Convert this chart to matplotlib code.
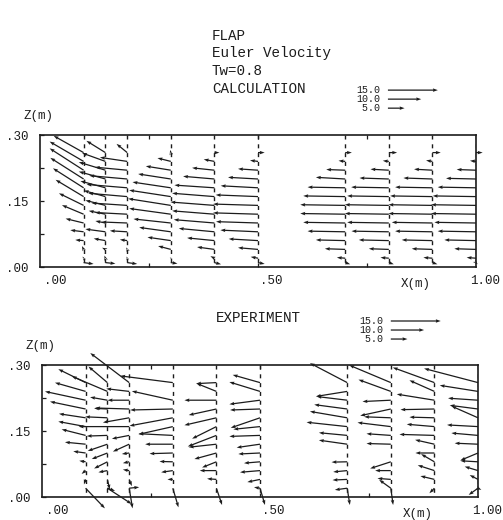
import matplotlib
matplotlib.use("Agg")
import matplotlib.pyplot as plt
import numpy as np

W, H = 503, 520
INK = "#1c1c1c"
plt.rcParams["font.family"] = ["Liberation Mono", "DejaVu Sans Mono"]

stations = [0.10, 0.15, 0.20, 0.30, 0.40, 0.50, 0.70, 0.80, 0.90, 1.00]

# calculation, rows from the top of the channel down
calc_z = [0.26, 0.24, 0.22, 0.20, 0.18, 0.16, 0.14, 0.12, 0.10, 0.08, 0.06, 0.04, 0.02, 0.01]
calc_u = [
    [-9.0, -10.2, -10.2, -10.0, -9.2, -8.4, -7.4, -6.5, -5.4, -4.0, -2.5, -0.5, -0.3, 3.0],
    [-5.7, -7.0, -8.0, -8.0, -7.5, -6.5, -6.0, -5.0, -3.0, -6.0, -3.5, -1.0, -0.3, 3.0],
    [-3.2, -8.2, -9.7, -11.4, -12.2, -11.7, -10.7, -9.7, -7.7, -5.2, -2.2, -0.3, -0.2, 3.0],
    [-0.2, -4.0, -7.5, -9.8, -11.5, -12.5, -12.8, -12.5, -11.2, -9.5, -7.0, -3.8, -0.3, 2.0],
    [1.5, -3.2, -6.7, -9.4, -12.0, -12.7, -13.2, -12.7, -12.2, -10.7, -8.2, -5.2, -1.2, 2.0],
    [2.0, -2.4, -6.0, -9.0, -11.2, -12.7, -13.5, -13.5, -12.6, -11.3, -8.8, -6.0, -2.2, 2.0],
    [2.0, -2.0, -5.7, -8.8, -11.3, -12.6, -13.5, -13.5, -12.6, -11.3, -8.8, -6.1, -2.5, 1.5],
    [2.5, -1.8, -5.5, -8.8, -11.3, -12.5, -13.2, -13.2, -12.5, -11.2, -9.0, -6.0, -2.5, 1.5],
    [2.5, -1.9, -5.5, -8.7, -11.2, -12.7, -13.2, -13.2, -12.2, -11.2, -9.2, -6.2, -2.7, 1.5],
    [2.0, -1.8, -5.8, -9.0, -11.5, -13.0, -13.5, -13.5, -12.5, -11.5, -9.5, -6.5, -2.8, 0.5],
]
calc_w = [
    [5.0, 5.9, 6.5, 6.3, 5.8, 5.0, 3.6, 2.7, 1.3, 0.5, 0.2, 1.0, 0.5, -0.4],
    [3.5, 2.5, 2.4, 2.2, 2.0, 1.8, 1.5, 1.0, 0.6, 0.8, 0.6, 0.5, 0.8, -0.3],
    [2.6, 1.2, 0.9, 1.0, 1.0, 1.0, 0.7, 0.5, 0.3, 0.3, 0.3, 0.6, 0.5, -0.4],
    [0.8, 1.0, 1.2, 1.5, 1.7, 1.9, 2.0, 1.7, 1.2, 1.3, 1.0, 1.0, 0.2, -0.3],
    [0.0, 0.6, 0.7, 0.8, 0.8, 1.0, 1.0, 1.0, 1.0, 1.0, 0.8, 0.7, 0.6, -0.5],
    [0.0, 0.3, 0.4, 0.5, 0.6, 0.5, 0.4, 0.4, 0.4, 0.5, 0.5, 0.5, 0.4, -0.4],
    [0.0, 0.2, 0.2, 0.5, 0.2, 0.2, 0.2, 0.2, 0.2, 0.2, 0.2, 0.2, 0.2, -0.5],
    [0.0, 0.2, 0.3, 0.3, 0.2, 0.2, 0.2, 0.2, 0.2, 0.2, 0.2, 0.2, 0.2, -0.5],
    [0.0, 0.3, 0.3, 0.3, 0.2, 0.2, 0.2, 0.2, 0.2, 0.2, 0.2, 0.2, 0.2, -0.5],
    [0.0, 0.2, 0.2, 0.2, 0.2, 0.2, 0.2, 0.2, 0.2, 0.2, 0.2, 0.2, 0.2, -0.5],
]

# experiment, the last row holds the second arrow seen at the foot of a station
nan = float("nan")
exp_z = [0.26, 0.24, 0.22, 0.20, 0.18, 0.16, 0.14, 0.12, 0.10, 0.08, 0.06, 0.04, 0.02, 0.02]
exp_u = [
    [-8.2, -9.2, -12.2, -10.7, -8.0, -8.2, -7.2, -6.2, -3.7, -1.9, -1.2, -0.5, 5.8, nan],
    [-5.7, -10.7, -5.2, -4.0, -6.7, nan, -6.2, -5.9, -4.7, -4.0, -2.7, 0.7, 7.3, 2.3],
    [-11.7, -6.9, -6.5, -10.2, -7.9, -15.2, -5.2, -4.9, -2.2, -1.9, -1.9, 0.8, 3.0, 1.0],
    [-15.8, nan, -12.3, -12.8, -13.0, -10.3, -10.3, -8.3, -7.0, -4.0, -3.5, -1.6, 1.7, nan],
    [-6.1, -6.0, -9.6, -8.3, -9.6, -7.3, -8.6, -8.3, -6.6, -4.3, -5.0, -2.8, 1.7, nan],
    [-8.2, -9.2, -9.2, -9.0, -8.8, -8.0, -9.2, -7.0, -6.5, -4.8, -6.0, -3.8, -1.8, 1.5],
    [-11.2, -9.4, -9.2, -9.9, -11.2, -12.2, -8.5, -8.5, nan, -4.7, -4.2, -4.4, -3.7, 0.8],
    [-12.5, -9.7, -8.5, -9.2, -8.0, -10.0, -7.3, -7.3, nan, -6.2, -4.7, -4.0, -3.5, 0.7],
    [-12.5, -7.5, -11.3, -10.2, -7.5, -8.3, -10.5, -5.8, -5.7, -4.0, -5.0, -4.2, -1.5, nan],
    [-16.2, -11.5, -9.0, -8.5, -8.0, -9.3, -8.0, -7.0, -5.3, -5.3, -4.0, -2.5, -2.8, 1.0],
]
exp_w = [
    [4.0, 2.6, 2.6, 2.2, 1.2, 1.5, 1.8, 0.6, 0.5, 0.3, -1.0, -1.5, -6.0, nan],
    [4.8, 4.5, 0.9, 0.2, 0.3, nan, -0.2, -2.0, -1.8, -2.0, -0.5, -3.0, -4.7, -0.8],
    [8.8, 0.8, 0.0, 0.3, -1.4, 0.0, -1.0, -2.2, -0.3, -0.4, 0.3, -2.0, 0.3, -6.0],
    [2.0, nan, 2.7, -0.3, -2.4, -2.3, 0.5, 0.0, -0.2, 0.1, -0.5, 0.0, -5.7, nan],
    [-0.3, 2.4, 0.0, -1.8, -2.2, -3.6, -3.3, -0.9, -1.8, -1.7, 0.0, 0.2, -5.0, nan],
    [2.3, 2.8, -1.2, -0.3, -3.0, -0.8, -0.3, -1.0, -0.3, -0.4, -0.5, -0.8, 0.3, -5.0],
    [5.8, -1.5, 1.1, 1.3, 1.9, 1.3, 0.8, 1.2, nan, -0.1, -0.4, -0.2, -0.5, -5.0],
    [5.2, 3.5, -0.4, -2.0, 0.3, 1.2, 0.5, 0.2, nan, -2.0, 0.0, 0.3, 2.5, -5.0],
    [4.5, 3.3, 1.8, -0.2, 0.2, 0.7, 0.3, 1.3, 0.0, 2.3, 1.6, 1.0, -1.5, nan],
    [4.2, 1.8, 0.6, 1.1, 3.5, 0.5, 0.7, 0.3, -2.2, 0.3, 1.2, 1.3, -2.0, -0.5],
]

key_speeds = [15.0, 10.0, 5.0]
title_lines = ["FLAP", "Euler Velocity", "Tw=0.8", "CALCULATION"]
y_ticks = [0.0, 0.075, 0.15, 0.225, 0.30]
y_labels = [".00", "", ".15", "", ".30"]
x_ticks = [0.25, 0.50, 0.75]


def arrows(ax, x, z, u, w):
    ax.quiver(x, z, u, w, angles="xy", scale_units="xy", scale=131, pivot="tail", units="dots",
              width=1.25, headwidth=2.8, headlength=4.0, headaxislength=3.6, minshaft=0.5, minlength=0,
              color=INK, clip_on=False, zorder=3)


def panel(left, bottom_px, z_levels, u, w, key_x, key_z):
    ax = fig.add_axes([left / W, 1 - bottom_px / H, 436 / W, 132 / H])
    ax.set_xlim(0, 1)
    ax.set_ylim(0, 0.3)
    for s in ax.spines.values():
        s.set_linewidth(1.2)
        s.set_color(INK)
    ax.set_xticks(x_ticks)
    ax.set_xticklabels([])
    ax.set_yticks(y_ticks)
    ax.set_yticklabels(y_labels, fontsize=9, color=INK)
    ax.tick_params(direction="in", length=3, width=0.9, color=INK, pad=8, top=True)

    # drawn downward so that each dash hangs under an arrow tail
    ax.vlines(stations, 0.30, 0.0, colors=INK, linewidth=1.0, linestyles=(0, (2.9, 3.44)), zorder=2)
    for x, us, ws in zip(stations, u, w):
        arrows(ax, np.full(len(z_levels), x), z_levels, us, ws)

    # speed key above the panel
    for i, v in enumerate(key_speeds):
        kz = key_z - i * 0.0205
        arrows(ax, [key_x], [kz], [v], [0.0])
        ax.annotate(f"{v:4.1f}", xy=(key_x, kz), xytext=(-7.5, 0), textcoords="offset pixels",
                    ha="right", va="center", fontsize=7.2, color=INK, annotation_clip=False)

    ax.annotate("Z(m)", xy=(0, 0.3), xytext=(13, 19), textcoords="offset pixels", ha="right",
                va="center", fontsize=9, color=INK, annotation_clip=False)
    for text, x, dx, dy in [(".00", 0.0, 15, -14), (".50", 0.5, 13, -14),
                            ("1.00", 1.0, 9, -14), ("X(m)", 0.85, 5, -17)]:
        ax.annotate(text, xy=(x, 0), xytext=(dx, dy), textcoords="offset pixels", ha="center",
                    va="center", fontsize=9, color=INK, annotation_clip=False)
    return ax


fig = plt.figure(figsize=(W / 100, H / 100), dpi=100, facecolor="white")

for i, line in enumerate(title_lines):
    fig.text(212 / W, 1 - (36 + 17.5 * i) / H, line, fontsize=10.3, color=INK, va="center")
fig.text(216 / W, 1 - 318 / H, "EXPERIMENT", fontsize=10.3, color=INK, va="center")

panel(40, 267, calc_z, calc_u, calc_w, 0.798, 0.402)
panel(42, 497, exp_z, exp_u, exp_w, 0.80, 0.40)

fig.savefig("out.png", dpi=100)
